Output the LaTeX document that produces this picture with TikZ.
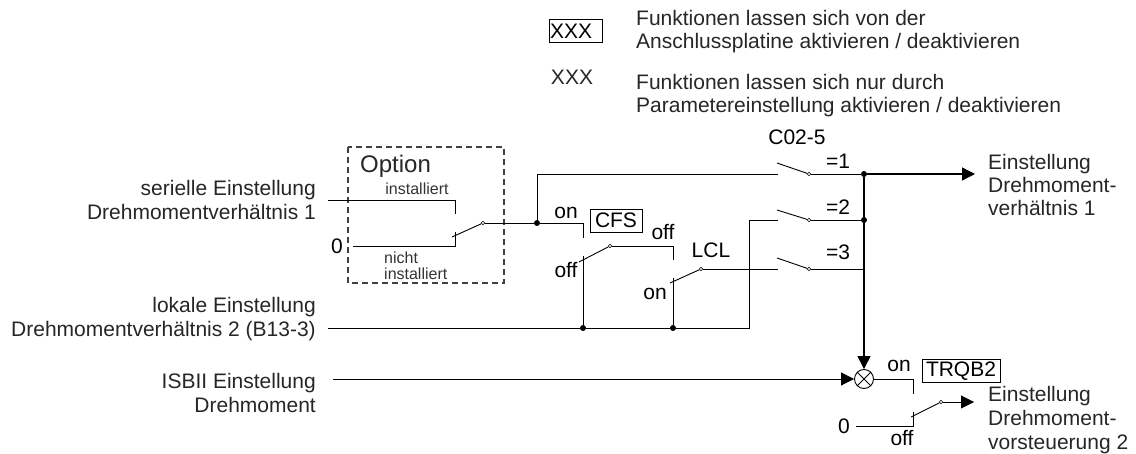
\documentclass[tikz,border=0pt]{standalone}
\usepackage{fontspec}
\setmainfont{Liberation Sans}
\usetikzlibrary{arrows.meta}

\begin{document}
\begin{tikzpicture} [
    x=1pt, y=-1pt,
    wire/.style    = { draw=black, line width=0.9pt },
    arrowline/.style = { draw=black, line width=1.3pt, -{Triangle[length=13pt,width=13pt]} },
    arrowthin/.style = { wire, -{Triangle[length=13pt,width=13pt]} },
    dashbox/.style = { draw=black!75, line width=1.2pt, dash pattern=on 6pt off 4pt },
    contact/.style = { circle, draw=black, fill=white, line width=0.6pt, inner sep=0pt, minimum size=3.5pt },
    junction/.style = { circle, fill=black, inner sep=0pt, minimum size=6pt },
    mixer/.style   = { circle, draw=black, line width=0.9pt, inner sep=0pt, minimum size=19pt },
    label/.style   = { inner sep=0pt, font=\fontsize{21}{23}\selectfont, text=black!85 },
    desc/.style    = { label, align=left, anchor=west },
    descr/.style   = { label, align=right, anchor=east, font=\fontsize{21}{24}\selectfont },
    small/.style   = { inner sep=0pt, font=\fontsize{16}{16}\selectfont, text=black!80, align=left },
    tag/.style     = { label, draw=black, line width=0.8pt, text=black, minimum height=23pt },
  ]

\useasboundingbox (0,0) rectangle (1136,454);

% legend
\node [tag, text width=51pt, inner xsep=1pt, align=left] (legbox) at (575.5,31) {XXX};
\node [label]                    (legtext) at (572,77)   {XXX};
\node [desc] (legone) at (636,32)   {Funktionen lassen sich von der \\ Anschlussplatine aktivieren / deaktivieren};
\node [desc] (legtwo) at (636,95.5) {Funktionen lassen sich nur durch \\ Parametereinstellung aktivieren / deaktivieren};

% texts left and right
\node [descr] (serial) at (316,199.5) {serielle Einstellung \\ Drehmomentverhältnis 1};
\node [descr] (local)  at (316,319.5) {lokale Einstellung \\ Drehmomentverhältnis 2 (B13-3)};
\node [descr] (isb)    at (316,393)   {ISBII Einstellung \\ Drehmoment};
\node [desc]  (outone) at (988,185)   {Einstellung \\ Drehmoment- \\ verhältnis 1};
\node [desc, font=\fontsize{21}{24}\selectfont] (outtwo) at (988,420) {Einstellung \\ Drehmoment- \\ vorsteuerung 2};

% option box
\draw [dashbox] (348,147) rectangle (504,283);
\node [label, anchor=west, font=\fontsize{24}{26}\selectfont] (option) at (360,166) {Option};
\node [small] (inst)    at (417,189) {installiert};
\node [small, anchor=west] (notinst) at (384,266) {nicht \\ installiert};
\node [label, text=black] (zeroa) at (337,246) {0};
\node [label, text=black] (zerob) at (844,426) {0};

% switch labels
\node [label, text=black] (onA)  at (566,213) {on};
\node [label, text=black] (offA) at (566,270) {off};
\node [label, text=black] (offB) at (663,232) {off};
\node [label, text=black] (onB)  at (655,294) {on};
\node [label, text=black] (lcl)  at (711,250) {LCL};
\node [label, text=black] (cfive) at (797,137) {C02-5};
\node [label, text=black] (eqa)  at (838,161) {=1};
\node [label, text=black] (eqb)  at (838,207) {=2};
\node [label, text=black] (eqc)  at (838,252) {=3};
\node [label, text=black] (onC)  at (899,366) {on};
\node [label, text=black] (offC) at (902,438) {off};
\node [tag, minimum width=52pt] (cfs)  at (616,220.5) {CFS};
\node [tag, minimum width=78pt] (trqb) at (961,371)   {TRQB2};

% contacts and junctions
\node [contact] (copt) at (483,223) {};
\node [contact] (ccfs) at (610,246) {};
\node [contact] (clcl) at (701,269) {};
\node [contact] (csa)  at (809,174) {};
\node [contact] (csb)  at (809,220) {};
\node [contact] (csc)  at (809,269) {};
\node [contact] (ctrq) at (941,402) {};
\node [junction] (jopt) at (537,223) {};
\node [junction] (jcfs) at (583,328) {};
\node [junction] (jlcl) at (673,328) {};
\node [junction] (jout) at (864,174) {};
\node [junction] (jsb)  at (864,220) {};
\node [mixer]    (mix)  at (864,379) {};

% free ends
\coordinate (optA) at (455,214);
\coordinate (optB) at (455,232);
\coordinate (cfsA) at (583,238);
\coordinate (cfsB) at (583,256);
\coordinate (lclA) at (673,260);
\coordinate (lclB) at (673,278);
\coordinate (trqA) at (913,394);
\coordinate (trqB) at (913,412);
\coordinate (armopt) at (452,237);
\coordinate (armcfs) at (579,262);
\coordinate (armlcl) at (670,283);
\coordinate (armtrq) at (911,417);
\coordinate (armsa) at (777,163);
\coordinate (armsb) at (777,210);
\coordinate (armsc) at (777,258);
\coordinate (inA)  at (778,174);
\coordinate (inB)  at (778,220);
\coordinate (inC)  at (778,269);
\coordinate (bendB) at (749,220);

\begin{scope} [every path/.style=wire]
    \path (328,200) -| (optA);
    \path (353,246) -| (optB);
    \path (armopt) -- (copt);
    \path (copt) -- (jopt);
    \path (jopt) |- (inA);
    \path (jopt) -| (cfsA);
    \path (cfsB) -- (jcfs);
    \path (armcfs) -- (ccfs);
    \path (ccfs) -| (lclA);
    \path (lclB) -- (jlcl);
    \path (armlcl) -- (clcl);
    \path (clcl) -- (inC);
    \path (328,328) -- (jcfs);
    \path (jcfs) -- (jlcl);
    \path (jlcl) -| (bendB);
    \path (bendB) -- (inB);
    \path (armsa) -- (csa);
    \path (armsb) -- (csb);
    \path (armsc) -- (csc);
    \path (csa) -- (jout);
    \path (csb) -- (jsb);
    \path (csc) -- (864,269);
    \path (mix.45) -- (mix.225);
    \path (mix.135) -- (mix.315);
    \path (mix.east) -| (trqA);
    \path (856,426) -| (trqB);
    \path (armtrq) -- (ctrq);
\end{scope}

\begin{scope} [every path/.style=arrowline]
    \path (jout) -- (975,174);
    \path (jout) -- (mix.north);
\end{scope}

\begin{scope} [every path/.style=arrowthin]
    \path (333,379) -- (mix.west);
    \path (ctrq) -- (974,402);
\end{scope}

\end{tikzpicture}
\end{document}
